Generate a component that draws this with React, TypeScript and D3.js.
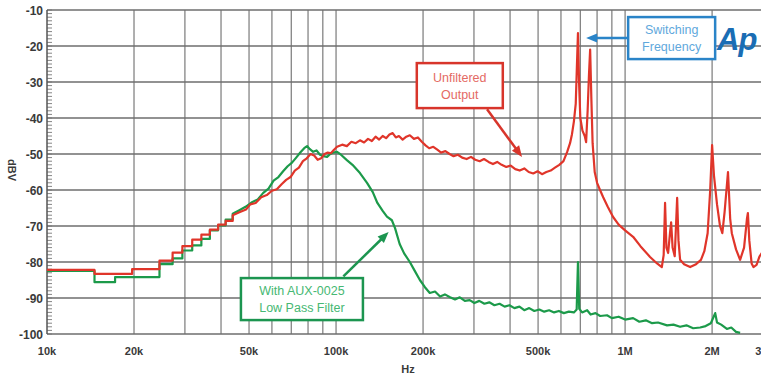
import React from 'react';
import * as d3 from 'd3';

// frequency (Hz), level (dBV)
const unfiltered: [number, number][] = [
  [10000, -82.2], [14600, -82.2], [14600, -83.3], [19700, -83.3], [19700, -82.0], [24500, -82.0],
  [24500, -79.6], [27200, -79.6], [27200, -77.4], [29400, -77.4], [29400, -75.6], [31800, -75.6],
  [31800, -73.8], [34200, -73.8], [34200, -72.4], [36600, -72.4], [36600, -71.0], [39100, -71.0],
  [39100, -69.6], [41500, -69.6], [41500, -68.6], [43900, -68.6], [43900, -67.0],
  [46300, -66.2], [48800, -65.4], [50500, -64.0], [52700, -63.6], [55100, -62.0], [57600, -61.4],
  [60000, -60.2], [62400, -59.8], [64800, -58.4], [67200, -57.2], [69600, -56.4], [72000, -54.6],
  [74400, -53.8], [76800, -52.0], [79200, -51.2], [81600, -50.0], [84000, -50.4], [86400, -51.6],
  [88800, -51.2], [91200, -50.0], [93600, -49.6], [96000, -49.8], [98400, -48.8], [100800, -48.0],
  [105000, -47.4], [109000, -47.8], [113000, -46.6], [117000, -47.0], [121000, -46.2], [125000, -46.8],
  [129000, -45.8], [133000, -46.4], [137000, -45.2], [141000, -46.0], [145000, -45.0], [149000, -45.6],
  [153000, -44.6], [157000, -44.2], [161000, -45.4], [165000, -45.0], [170000, -46.0], [175000, -45.2],
  [180000, -44.8], [186000, -45.8], [192000, -45.4], [198000, -46.6], [204000, -47.6], [210000, -48.4],
  [217000, -48.0], [224000, -48.8], [231000, -49.6], [239000, -49.2], [247000, -50.0], [255000, -50.6],
  [264000, -50.2], [273000, -51.0], [283000, -51.4], [293000, -50.8], [303000, -51.6], [314000, -52.0],
  [325000, -51.4], [337000, -52.2], [349000, -52.8], [361000, -52.2], [374000, -53.0], [388000, -53.6],
  [402000, -53.2], [417000, -54.2], [432000, -54.6], [448000, -54.0], [464000, -55.0], [481000, -55.4],
  [498000, -54.8], [516000, -55.6], [534000, -55.0], [553000, -54.6], [572000, -53.8], [592000, -53.0],
  [612000, -52.0], [630000, -49.5], [645000, -47.0], [655000, -44.5], [665000, -41.0], [675000, -36.0],
  [681000, -26.0], [687000, -16.4], [693000, -30.0], [700000, -40.0], [712000, -43.5], [725000, -45.0],
  [733000, -46.7], [742000, -38.0], [750000, -28.0], [757000, -21.0], [764000, -34.0], [772000, -47.0],
  [785000, -55.0], [800000, -58.0], [819000, -60.0], [840000, -62.0], [870000, -64.6], [909000, -67.5],
  [950000, -69.6], [1000000, -71.2], [1066000, -73.0], [1130000, -75.6], [1220000, -78.6], [1290000, -80.4],
  [1340000, -81.4], [1360000, -78.0], [1375000, -63.6], [1390000, -76.0], [1409000, -77.5], [1430000, -72.0],
  [1443000, -69.0], [1460000, -76.0], [1485000, -78.4], [1500000, -70.0], [1514000, -62.2], [1530000, -74.0],
  [1550000, -79.4], [1600000, -80.6], [1679000, -81.4], [1760000, -80.6], [1830000, -79.4], [1880000, -77.0],
  [1930000, -72.0], [1970000, -60.0], [2000000, -47.5], [2030000, -56.0], [2080000, -64.0], [2130000, -70.0],
  [2170000, -72.0], [2210000, -66.0], [2270000, -55.0], [2310000, -68.0], [2340000, -72.0], [2420000, -76.5],
  [2500000, -79.4], [2580000, -76.0], [2640000, -68.0], [2660000, -66.4], [2690000, -74.0], [2740000, -80.4],
  [2780000, -81.4], [2850000, -80.8], [2920000, -78.4], [3000000, -77.0],
];

const filtered: [number, number][] = [
  [10000, -82.5], [14600, -82.5], [14600, -85.6], [17200, -85.6], [17200, -84.2], [24500, -84.2],
  [24500, -80.6], [27200, -80.6], [27200, -79.0], [29400, -79.0], [29400, -76.8], [31800, -76.8],
  [31800, -75.4], [34200, -75.4], [34200, -73.6], [36600, -73.6], [36600, -71.2], [39100, -71.2],
  [39100, -69.8], [41500, -69.8], [41500, -68.2], [43900, -68.2], [43900, -66.6],
  [46300, -65.6], [48800, -64.6], [51200, -63.4], [53600, -62.6], [56000, -60.8], [58400, -59.6],
  [60800, -57.4], [63200, -56.4], [65600, -54.8], [68000, -53.4], [70400, -52.4], [72800, -51.0],
  [75200, -49.6], [77600, -48.4], [79400, -47.8], [81000, -48.6], [83300, -49.4], [85600, -49.0],
  [88000, -50.2], [90400, -50.6], [93100, -50.8], [95500, -50.0], [97600, -49.6], [100800, -49.4],
  [104000, -50.2], [109000, -51.7], [114000, -53.0], [121000, -55.3], [128000, -58.0], [134000, -60.6],
  [139000, -63.6], [145000, -65.8], [150000, -67.4], [156000, -68.4], [160000, -70.6], [166000, -75.0],
  [172000, -77.6], [180000, -80.0], [187000, -82.4], [195000, -85.0], [203000, -87.0], [211000, -88.6],
  [220000, -88.2], [229000, -89.6], [238000, -89.0], [248000, -89.8], [258000, -90.4], [268000, -89.8],
  [279000, -90.8], [290000, -90.6], [301000, -91.4], [313000, -90.8], [326000, -91.6], [339000, -91.2],
  [353000, -92.0], [368000, -91.6], [383000, -92.4], [398000, -92.0], [414000, -92.8], [431000, -92.4],
  [448000, -93.4], [466000, -92.8], [485000, -93.6], [505000, -93.2], [525000, -93.8], [546000, -93.4],
  [568000, -94.0], [590000, -93.6], [614000, -94.2], [639000, -93.8], [665000, -94.0], [680000, -93.2],
  [687000, -80.0], [694000, -93.0], [710000, -94.0], [739000, -93.4], [760000, -94.6], [790000, -94.2],
  [820000, -95.0], [866000, -94.8], [900000, -95.6], [950000, -95.2], [1000000, -96.0], [1066000, -95.6],
  [1120000, -96.6], [1180000, -96.2], [1240000, -97.0], [1300000, -96.8], [1397000, -97.6], [1470000, -97.4],
  [1550000, -98.0], [1630000, -97.6], [1720000, -98.4], [1819000, -98.2], [1900000, -97.8], [1980000, -97.0],
  [2030000, -95.0], [2050000, -94.2], [2080000, -96.8], [2150000, -97.4], [2250000, -98.6], [2330000, -98.2],
  [2420000, -99.4], [2500000, -99.7],
];

const yTicks = [-10, -20, -30, -40, -50, -60, -70, -80, -90, -100];
const xTickLabels: [number, string][] = [
  [1e4, '10k'], [2e4, '20k'], [5e4, '50k'], [1e5, '100k'], [2e5, '200k'],
  [5e5, '500k'], [1e6, '1M'], [2e6, '2M'], [3e6, '3M'],
];

// annotation anchors in data units: tip, tail, box centre
const notes = [
  { lines: ['Switching', 'Frequency'], tip: [733e3, -17.8], tail: [1.023e6, -17.8], box: [1.449e6, -17.8], w: 87, h: 42, line: '#2a84c8', text: '#5fa8dc' },
  { lines: ['Unfiltered', 'Output'], tip: [440e3, -50.8], tail: [333e3, -37.6], box: [268e3, -31.0], w: 86, h: 45, line: '#d8352b', text: '#e46a64' },
  { lines: ['With AUX-0025', 'Low Pass Filter'], tip: [152e3, -71.7], tail: [106e3, -84.0], box: [76.2e3, -90.3], w: 122, h: 42, line: '#1c9550', text: '#46b873' },
];

const W = 761;
const H = 377;
const font = '"Liberation Sans", Arial, sans-serif';

export default function App() {
  const x = d3.scaleLog().domain([1e4, 3e6]).range([47, 763]);
  const y = d3.scaleLinear().domain([-100, -10]).range([334, 10]);

  const gridX: number[] = [];
  for (let dec = 1e4; dec < 3e6; dec *= 10) {
    for (let m = 1; m <= 9; m++) {
      const f = dec * m;
      if (f > 1e4 && f <= 3e6) gridX.push(f);
    }
  }
  const minorY = d3.range(-100, -9, 1);

  const line = d3
    .line<[number, number]>()
    .x((d) => x(d[0]))
    .y((d) => y(d[1]));

  const arrowHead = (x1: number, y1: number, x2: number, y2: number) => {
    const a = Math.atan2(y2 - y1, x2 - x1);
    const len = 11;
    const half = 4.5;
    const bx = x2 - len * Math.cos(a);
    const by = y2 - len * Math.sin(a);
    const px = -Math.sin(a) * half;
    const py = Math.cos(a) * half;
    return `M${x2},${y2}L${bx + px},${by + py}L${bx - px},${by - py}Z`;
  };

  return (
    <svg width={W} height={H} style={{ position: 'absolute', left: 0, top: 0, background: '#fff' }}>
      {/* grid */}
      {gridX.map((f) => (
        <line key={f} x1={x(f)} x2={x(f)} y1={y(-10)} y2={y(-100)} stroke="#7a7a7a" strokeWidth={1.2} />
      ))}
      {yTicks.map((v) => (
        <line key={v} x1={x(1e4)} x2={W} y1={y(v)} y2={y(v)} stroke="#6e6e6e" strokeWidth={1.4} />
      ))}
      {minorY.map((v) => (
        <line key={'m' + v} x1={x(1e4)} x2={x(1e4) + 5} y1={y(v)} y2={y(v)} stroke="#777" strokeWidth={0.9} />
      ))}
      <line x1={x(1e4)} x2={x(1e4)} y1={y(-10)} y2={y(-100)} stroke="#555" strokeWidth={1.5} />

      {/* y labels */}
      {yTicks.map((v) => (
        <text key={'t' + v} x={43} y={y(v) + 4.5} textAnchor="end" fontFamily={font} fontWeight="bold" fontSize={12} fill="#3a3a3a">
          {v}
        </text>
      ))}
      <text transform={`translate(8,170) rotate(90)`} textAnchor="middle" fontFamily={font} fontWeight="bold" fontSize={11} fill="#3a3a3a">
        dBV
      </text>

      {/* x labels */}
      {xTickLabels.map(([f, s]) => (
        <text key={s} x={x(f)} y={355} textAnchor="middle" fontFamily={font} fontWeight="bold" fontSize={11} fill="#3a3a3a">
          {s}
        </text>
      ))}
      <text x={408} y={373} textAnchor="middle" fontFamily={font} fontWeight="bold" fontSize={11} fill="#3a3a3a">
        Hz
      </text>

      {/* traces */}
      <path d={line(filtered) ?? ''} fill="none" stroke="#1c9a4a" strokeWidth={2.2} strokeLinejoin="round" />
      <path d={line(unfiltered) ?? ''} fill="none" stroke="#e0352a" strokeWidth={2.2} strokeLinejoin="round" />

      {/* annotations */}
      {notes.map((n) => {
        const tx = x(n.tip[0]);
        const ty = y(n.tip[1]);
        const sx = x(n.tail[0]);
        const sy = y(n.tail[1]);
        const cx = x(n.box[0]);
        const cy = y(n.box[1]);
        return (
          <g key={n.lines[0]}>
            <line x1={sx} y1={sy} x2={tx - (tx - sx) * 0.15} y2={ty - (ty - sy) * 0.15} stroke={n.line} strokeWidth={2.5} />
            <path d={arrowHead(sx, sy, tx, ty)} fill={n.line} />
            <rect x={cx - n.w / 2} y={cy - n.h / 2} width={n.w} height={n.h} fill="#fff" stroke={n.line} strokeWidth={2.5} />
            {n.lines.map((t, i) => (
              <text key={t} x={cx} y={cy - 4 + i * 17} textAnchor="middle" fontFamily={font} fontSize={12.5} fill={n.text}>
                {t}
              </text>
            ))}
          </g>
        );
      })}

      {/* logo */}
      <text x={717} y={50} fontFamily={font} fontWeight="bold" fontStyle="italic" fontSize={31} fill="#1a6db4" letterSpacing={-1}>
        Ap
      </text>
    </svg>
  );
}
